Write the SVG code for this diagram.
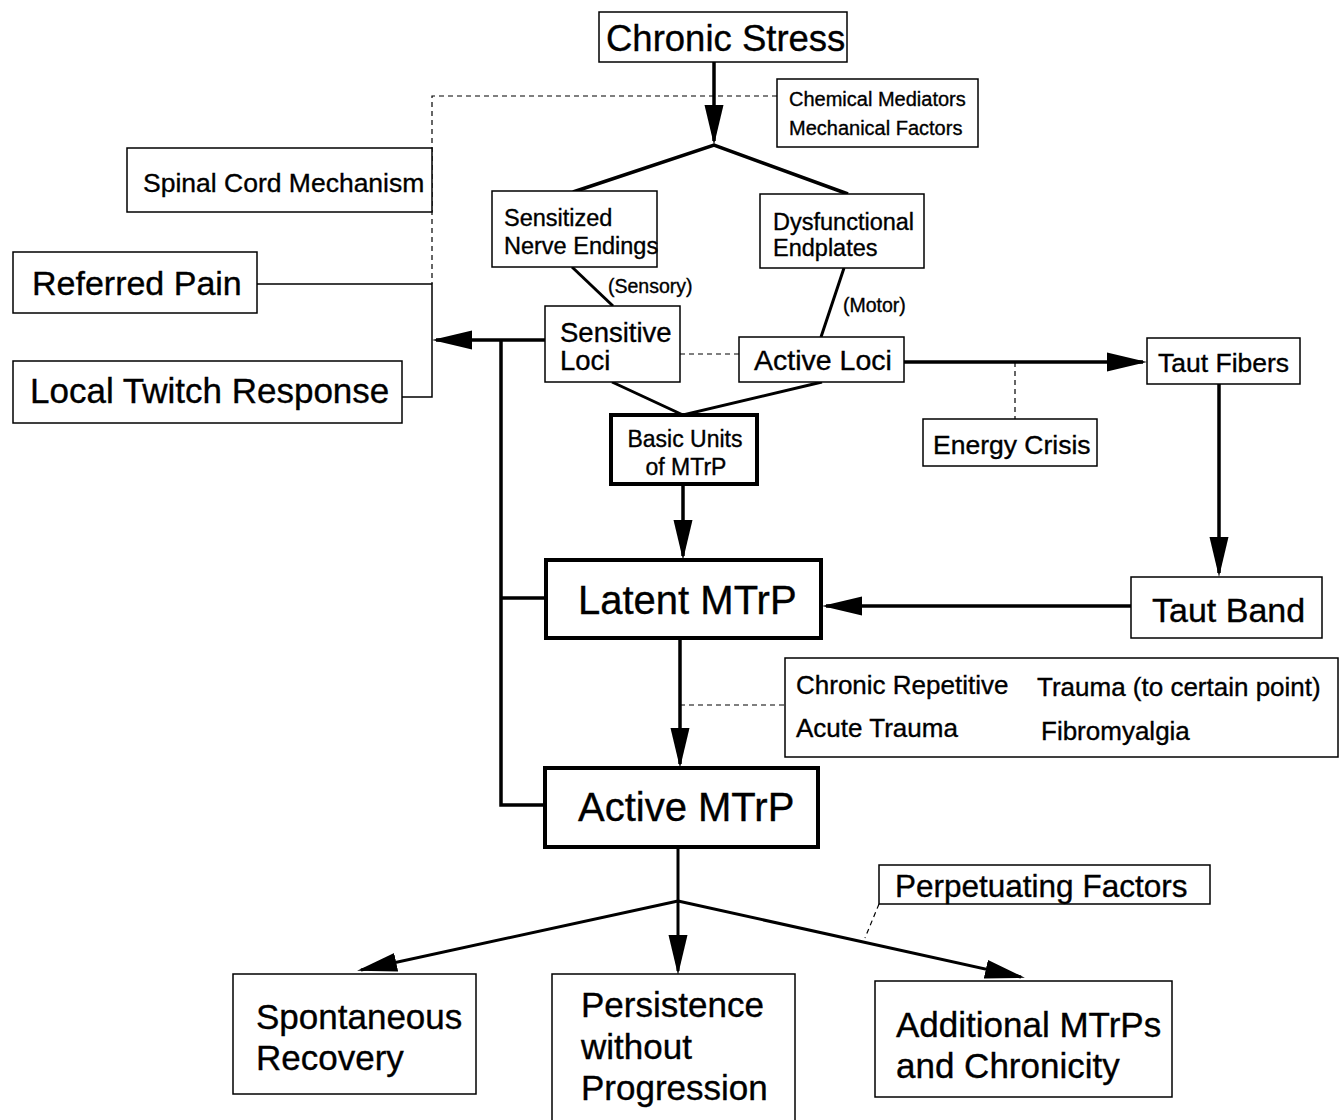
<svg xmlns="http://www.w3.org/2000/svg" width="1341" height="1120" viewBox="0 0 1341 1120">
<defs>
<marker id="ah" markerUnits="userSpaceOnUse" markerWidth="40" markerHeight="20" refX="36" refY="10" orient="auto">
<path d="M0,0.5 L40,10 L0,19.5 Z" fill="#000"/>
</marker>
<style>
text{font-family:"Liberation Sans",Arial,Helvetica,sans-serif;fill:#000;stroke:#000;stroke-width:0.35}
.box{fill:#fff;stroke:#000;stroke-width:1.5}
.tbox{fill:#fff;stroke:#000;stroke-width:4}
.thick{fill:none;stroke:#000;stroke-width:3.5}
.med{fill:none;stroke:#000;stroke-width:3}
.thin{fill:none;stroke:#000;stroke-width:1.5}
.dash{fill:none;stroke:#000;stroke-width:1.2;stroke-dasharray:5,4}
</style>
</defs>
<rect width="1341" height="1120" fill="#fff"/>

<g id="connectors">
<path class="dash" d="M777,96 H432 V284"/>
<path class="thin" d="M257,284 H432 V397 H402"/>
<path class="thick" d="M714,61 V141" marker-end="url(#ah)"/>
<path class="thick" d="M573,192 L714,145 L848,194"/>
<path class="med" d="M572,267 L613,306"/>
<path class="med" d="M844,268 L821,337"/>
<path class="med" d="M612,382 L683,415 L822,382"/>
<path class="dash" d="M680,354 H739"/>
<path class="thick" d="M904,362 H1143" marker-end="url(#ah)"/>
<path class="dash" d="M1015,362 V419"/>
<path class="thick" d="M1219,384 V573" marker-end="url(#ah)"/>
<path class="thick" d="M1131,606 H826" marker-end="url(#ah)"/>
<path class="thick" d="M683,484 V556" marker-end="url(#ah)"/>
<path class="thick" d="M680,638 V764" marker-end="url(#ah)"/>
<path class="dash" d="M680,705 H785"/>
<path class="thick" d="M545,340 H436" marker-end="url(#ah)"/>
<path class="thick" d="M501,340 V805 H545 M501,598 H546"/>
<path class="med" d="M678,848 V971" marker-end="url(#ah)"/>
<path class="med" d="M678,901 L361,970" marker-end="url(#ah)"/>
<path class="med" d="M678,901 L1021,977" marker-end="url(#ah)"/>
<path class="dash" d="M879,904 L865,938"/>
</g>

<g id="chronic-stress"><rect class="box" x="599" y="12" width="248" height="50"/><text x="606" y="51" font-size="36.5">Chronic Stress</text></g>
<g id="chemical-mediators"><rect class="box" x="777" y="79" width="201" height="68"/><text x="789" y="106" font-size="20">Chemical Mediators</text><text x="789" y="135" font-size="20">Mechanical Factors</text></g>
<g id="spinal-cord"><rect class="box" x="127" y="148" width="305" height="64"/><text x="143" y="192" font-size="26.5">Spinal Cord Mechanism</text></g>
<g id="referred-pain"><rect class="box" x="13" y="252" width="244" height="61"/><text x="32" y="295" font-size="34">Referred Pain</text></g>
<g id="local-twitch"><rect class="box" x="13" y="361" width="389" height="62"/><text x="30" y="403" font-size="35">Local Twitch Response</text></g>
<g id="sensitized"><rect class="box" x="492" y="191" width="165" height="76"/><text x="504" y="226" font-size="23.5">Sensitized</text><text x="504" y="254" font-size="23.5">Nerve Endings</text></g>
<g id="dysfunctional"><rect class="box" x="760" y="194" width="164" height="74"/><text x="773" y="230" font-size="23.5">Dysfunctional</text><text x="773" y="256" font-size="23.5">Endplates</text></g>
<g id="sensory-label"><text x="608" y="293" font-size="19.5">(Sensory)</text></g>
<g id="motor-label"><text x="843" y="312" font-size="19.5">(Motor)</text></g>
<g id="sensitive-loci"><rect class="box" x="545" y="306" width="135" height="76"/><text x="560" y="342" font-size="27.5">Sensitive</text><text x="560" y="370" font-size="27.5">Loci</text></g>
<g id="active-loci"><rect class="box" x="739" y="337" width="165" height="45"/><text x="754" y="370" font-size="28.5">Active Loci</text></g>
<g id="basic-units"><rect class="tbox" x="611" y="415" width="146" height="69"/><text x="685" y="447" font-size="23" text-anchor="middle">Basic Units</text><text x="686" y="475" font-size="23" text-anchor="middle">of MTrP</text></g>
<g id="taut-fibers"><rect class="box" x="1147" y="338" width="153" height="46"/><text x="1158" y="372" font-size="26.5">Taut Fibers</text></g>
<g id="energy-crisis"><rect class="box" x="923" y="419" width="174" height="47"/><text x="933" y="454" font-size="26.5">Energy Crisis</text></g>
<g id="taut-band"><rect class="box" x="1131" y="577" width="191" height="61"/><text x="1152" y="622" font-size="34">Taut Band</text></g>
<g id="latent-mtrp"><rect class="tbox" x="546" y="560" width="275" height="78"/><text x="578" y="614" font-size="40">Latent MTrP</text></g>
<g id="trauma-factors"><rect class="box" x="785" y="658" width="553" height="99"/><text x="796" y="694" font-size="26">Chronic Repetitive</text><text x="1037" y="696" font-size="26">Trauma (to certain point)</text><text x="796" y="737" font-size="26">Acute Trauma</text><text x="1041" y="740" font-size="26">Fibromyalgia</text></g>
<g id="active-mtrp"><rect class="tbox" x="545" y="768" width="273" height="79"/><text x="578" y="821" font-size="40">Active MTrP</text></g>
<g id="perpetuating"><rect class="box" x="879" y="865" width="331" height="39"/><text x="895" y="897" font-size="31.5">Perpetuating Factors</text></g>
<g id="spontaneous"><rect class="box" x="233" y="974" width="243" height="120"/><text x="256" y="1029" font-size="35">Spontaneous</text><text x="256" y="1070" font-size="35">Recovery</text></g>
<g id="persistence"><rect class="box" x="552" y="974" width="243" height="160"/><text x="581" y="1017" font-size="35">Persistence</text><text x="581" y="1059" font-size="35">without</text><text x="581" y="1100" font-size="35">Progression</text></g>
<g id="additional"><rect class="box" x="875" y="981" width="297" height="116"/><text x="896" y="1037" font-size="35">Additional MTrPs</text><text x="896" y="1078" font-size="35">and Chronicity</text></g>
</svg>
